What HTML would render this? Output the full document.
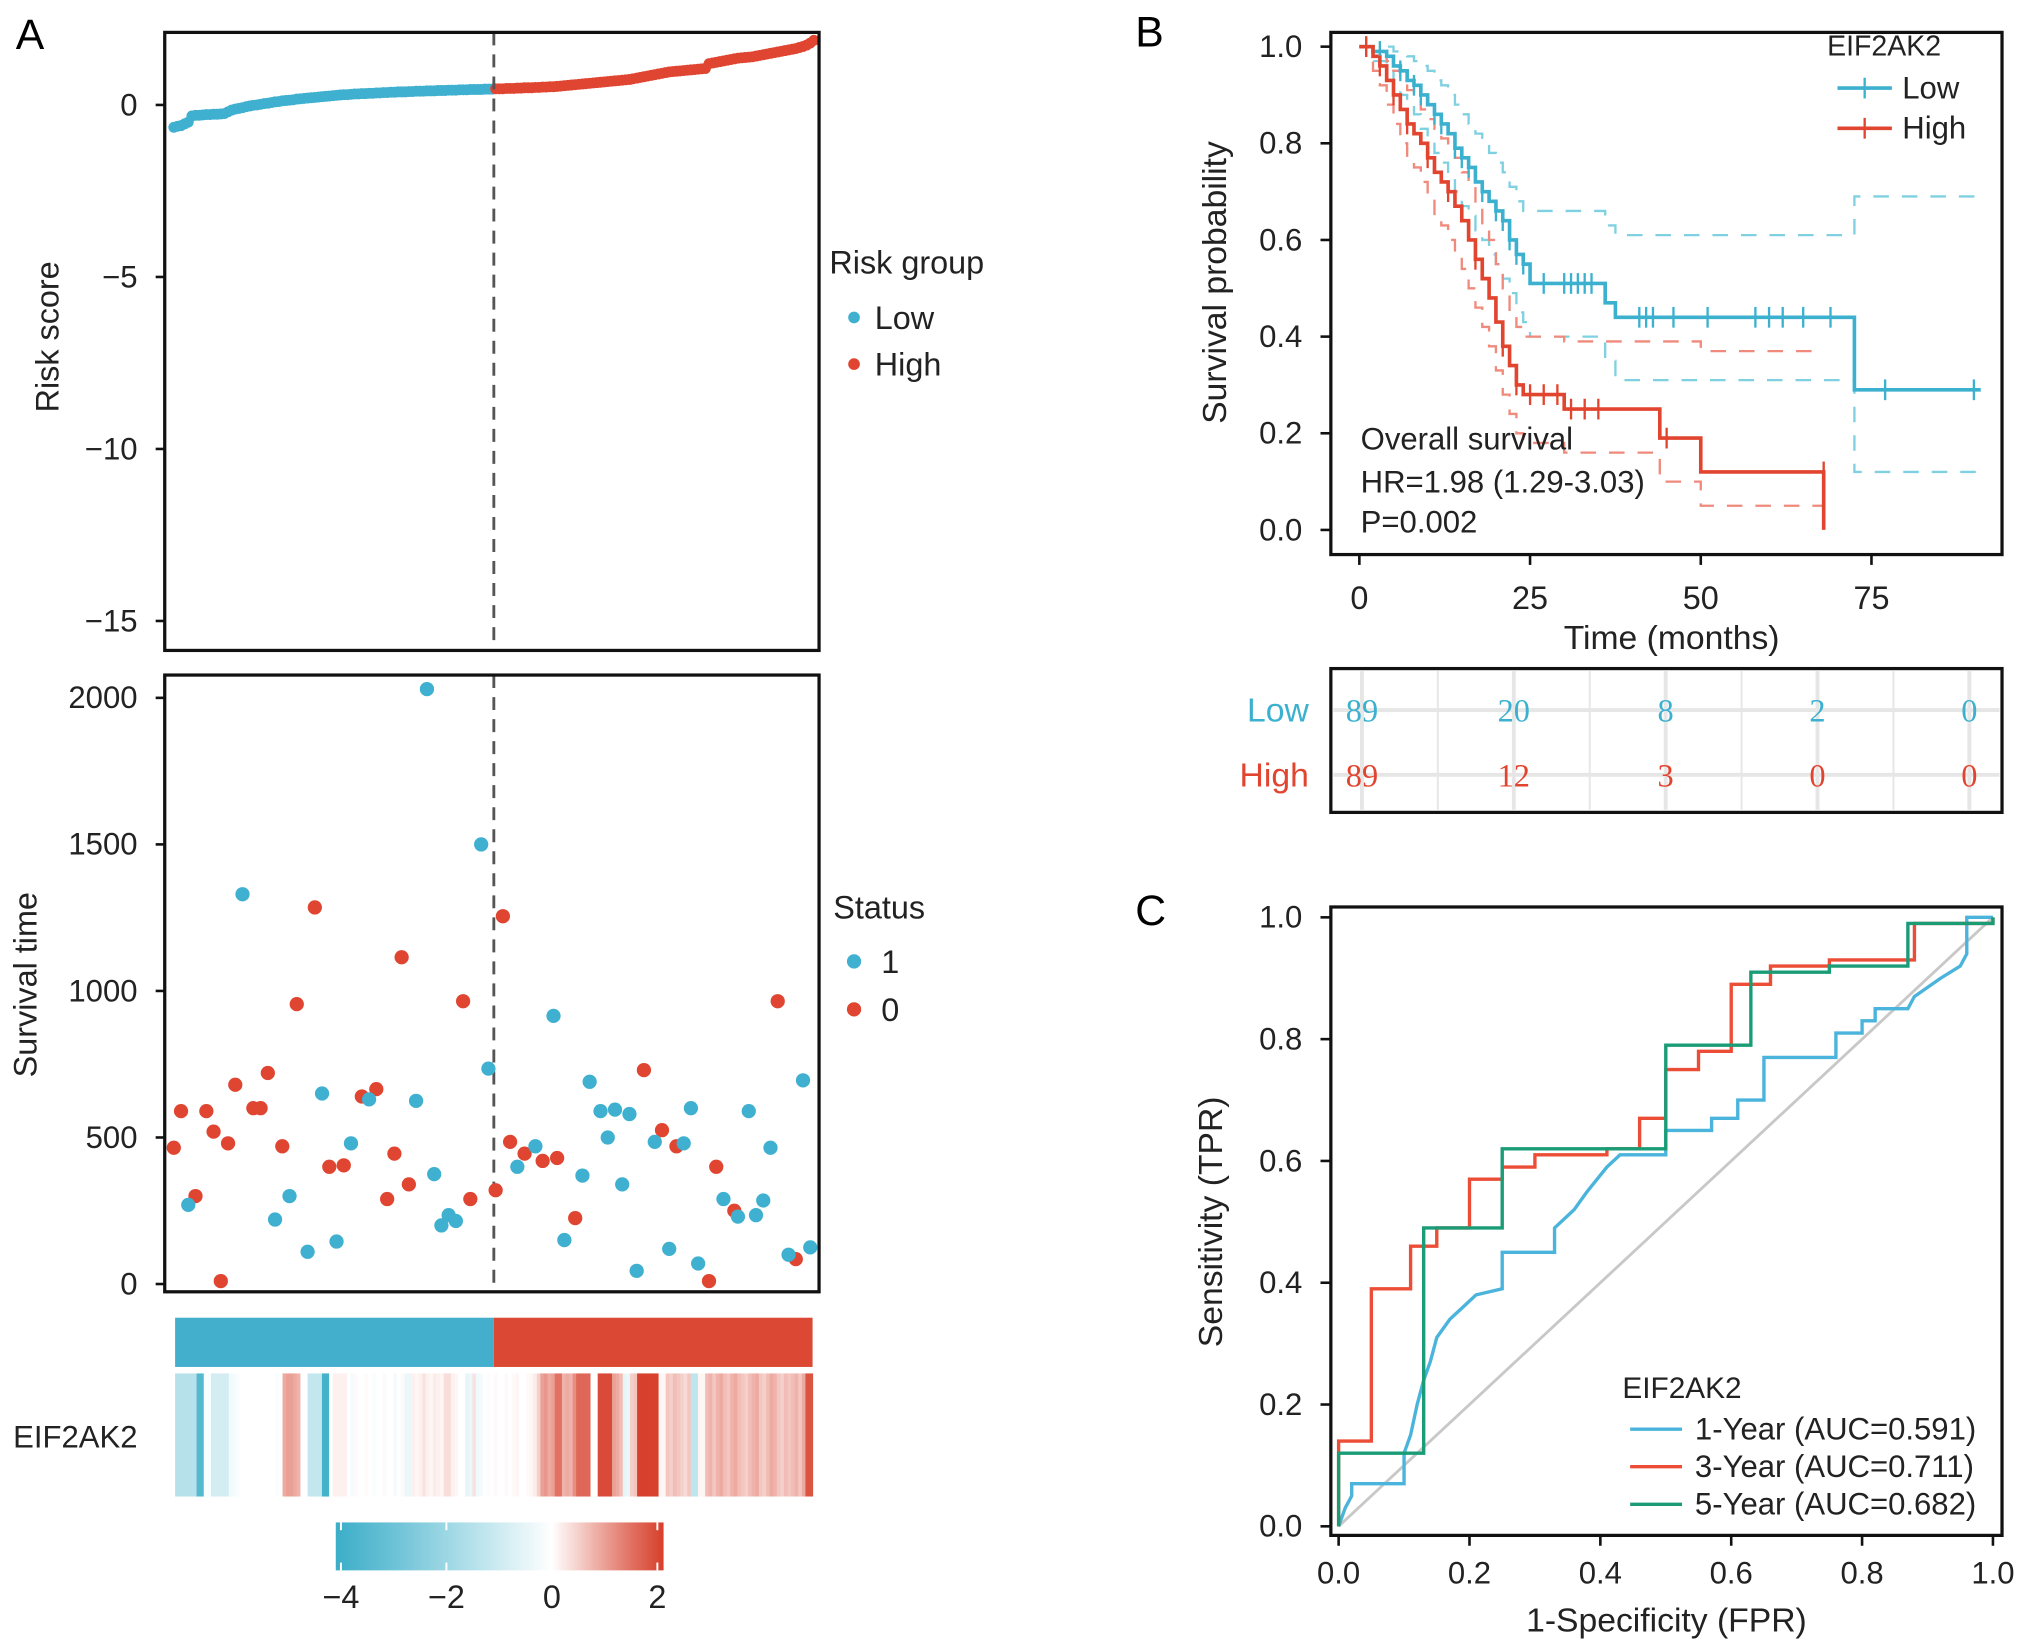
<!DOCTYPE html>
<html><head><meta charset="utf-8"><title>EIF2AK2 risk figure</title>
<style>
html,body{margin:0;padding:0;background:#fff;}
svg{display:block;font-family:"Liberation Sans",Arial,sans-serif;}
</style></head>
<body>
<svg id="fig" xmlns="http://www.w3.org/2000/svg" width="2032" height="1652" viewBox="0 0 1568 1275">
<rect x="0" y="0" width="1568" height="1275" fill="#fff"/>
<g id="gA"></g>
<g id="gB"></g>
<g id="gC"></g>
</svg>
<script>
// ---------- Panel A data ----------
const riskLow = [-0.65,-0.62,-0.6,-0.55,-0.5,
-0.32,-0.3,-0.3,-0.29,-0.28,-0.28,-0.27,-0.27,-0.26,-0.25,-0.2,
-0.15,-0.12,-0.1,-0.08,-0.05,-0.03,-0.01,0,0.02,0.04,0.05,0.07,0.09,0.1,
0.12,0.13,0.14,0.15,0.17,0.18,0.19,0.2,0.21,0.22,0.23,0.24,0.25,0.26,0.27,0.28,0.29,0.3,0.3,0.31,
0.32,0.32,0.33,0.33,0.34,0.34,0.35,0.35,0.36,0.36,0.37,0.37,0.38,0.38,0.38,0.39,0.39,0.4,0.4,0.4,
0.41,0.41,0.41,0.42,0.42,0.42,0.43,0.43,0.43,0.44,0.44,0.44,0.45,0.45,0.45,0.45,0.46,0.46,0.46];
const riskHigh = [0.47,0.47,0.47,0.48,0.48,0.48,0.49,0.49,0.5,0.5,0.5,0.51,0.51,0.52,0.52,0.53,0.53,0.54,0.55,0.56,
0.57,0.58,0.59,0.6,0.61,0.62,0.63,0.64,0.65,0.66,0.67,0.68,0.69,0.7,0.71,0.72,0.73,0.74,0.76,0.78,
0.8,0.82,0.84,0.86,0.88,0.9,0.92,0.94,0.96,0.97,0.98,0.99,1.0,1.01,1.02,1.03,1.04,1.05,1.06,
1.2,1.22,1.24,1.26,1.28,1.3,1.32,1.34,1.36,1.37,1.38,1.39,1.4,1.42,1.44,1.46,1.48,1.5,1.52,1.54,
1.56,1.58,1.6,1.62,1.64,1.67,1.7,1.74,1.8,1.88];
const riskTicks = [0,-5,-10,-15];
const deadRank = [5,20,29,33,38,42,46,50,55,68,73,75,77,79,71,86,88,96,101,106,109,114,116,119,121,123,125,127,129,134,138,142,144,146,153,157,160,162,164,166,171,175,177];
const deadTime = [270,1330,220,300,110,650,145,480,630,625,375,200,235,215,2030,1500,735,400,470,915,150,370,690,590,500,595,340,580,45,485,120,480,600,70,290,230,590,235,285,465,100,695,125];
const aliveRank = [1,3,7,10,12,14,16,18,23,25,27,31,35,40,44,48,53,57,60,62,64,66,81,83,90,92,94,98,103,107,112,131,136,140,151,156,149,168,173];
const aliveTime = [465,590,300,590,520,10,480,680,600,600,720,470,955,1285,400,405,640,665,290,445,1115,340,965,290,320,1255,485,445,420,430,225,730,525,470,400,250,10,965,85];
const timeTicks = [0,500,1000,1500,2000];
const exprValues = [-1.5,-1.5,-1.5,-1.5,-1.5,-1.5,-3.5,-3.5,-0.1,-0.1,
-0.9,-0.9,-0.9,-0.9,-0.9,
-0.3,-0.2,-0.1,0,0,0,0,0,0,0,0,0,0,-0.1,0,
0.9,1.0,1.0,0.9,0.8,0,0,
-1.2,-1.2,-1.2,-1.2,-3.8,-3.8,0,
0.15,0.15,0.15,0.15,
0,-0.2,0.05,0,0,0.05,0,-0.1,0,0,0.05,0,0,-0.2,0,0.05,
-0.4,-0.4,
0.15,0.1,0.15,0.3,0.15,0.1,0.2,0.15,0.1,0.35,0.35,0.15,0.1,
0,0,
-0.5,-0.4,0.3,-0.3,-0.2,
0,-0.1,0,0.05,0,0,0.05,0,
0.05,0.1,0,0,0.05,0.1,0.2,0.5,
1.0,1.1,0.9,1.0,1.5,1.5,
0.8,0.9,0.8,1.2,1.6,1.6,1.6,1.6,0,0,
1.9,1.9,1.9,1.9,1.0,0.9,0.7,
-0.5,-0.4,0.5,0.6,
2.0,2.0,2.0,2.0,2.0,2.0,0.1,0.1,
0.6,0.5,0.7,0.6,0.5,0.4,0.6,-1.3,-1.3,0.1,0.1,
0.7,0.8,0.6,0.8,0.9,0.7,0.6,0.8,0.9,0.7,0.6,0.5,0.7,0.8,0.9,0.6,0.5,0.7,0.9,0.8,0.6,0.5,0.7,
0.6,0.7,0.8,0.6,0.9,1.8,1.8];
const colorbarTicks = [-4,-2,0,2];

// ---------- Panel B data ----------
const lowT = [0,2,4,5,6,7,8,9,10,11,12,13,14,15,16,17,18,19,20,21,22,23,24,25,36,37.5,72.5];
const lowS = [1,0.99,0.98,0.96,0.95,0.93,0.92,0.9,0.88,0.86,0.84,0.82,0.79,0.77,0.75,0.72,0.7,0.68,0.66,0.64,0.6,0.57,0.55,0.51,0.47,0.44,0.29];
const lowUp = [1,1,1,0.99,0.99,0.98,0.97,0.96,0.95,0.93,0.92,0.9,0.88,0.86,0.84,0.82,0.8,0.78,0.76,0.74,0.71,0.68,0.66,0.66,0.63,0.61,0.69];
const lowLo = [1,0.97,0.95,0.92,0.9,0.88,0.86,0.83,0.81,0.78,0.76,0.73,0.7,0.67,0.65,0.62,0.6,0.57,0.55,0.52,0.49,0.45,0.43,0.4,0.35,0.31,0.12];
const lowEnd = 91;
const lowCens = [1,3,6,8,9,11,12,14,15,16,18,20,21,22,23,24,27,30,31,32,33,34,41,42,43,46,51,58,60,62,65,69,77,90];
const highT = [0,2,3,4,5,6,7,8,9,10,11,12,13,14,15,16,17,18,19,20,21,22,23,24,30,44,50,68];
const highS = [1,0.98,0.96,0.93,0.9,0.87,0.84,0.82,0.8,0.77,0.74,0.72,0.7,0.67,0.64,0.6,0.56,0.52,0.48,0.43,0.38,0.34,0.3,0.28,0.25,0.19,0.12,0];
const highUp = [1,1,0.99,0.97,0.95,0.93,0.91,0.89,0.87,0.85,0.83,0.81,0.79,0.77,0.74,0.71,0.67,0.63,0.6,0.55,0.5,0.45,0.42,0.4,0.39,0.39,0.37];
const highLo = [1,0.95,0.92,0.88,0.84,0.8,0.77,0.75,0.72,0.69,0.65,0.63,0.6,0.57,0.54,0.5,0.46,0.42,0.38,0.33,0.28,0.24,0.2,0.18,0.16,0.1,0.05];
const highEnd = 68;
const highCens = [1,3,5,7,10,13,17,21,23,25,27,29,31,33,35,45,68];
const survTicks = [0,0.2,0.4,0.6,0.8,1.0];
const monthTicks = [0,25,50,75];
const riskTableLow = [89,20,8,2,0];
const riskTableHigh = [89,12,3,0,0];

// ---------- Panel C data ----------
const roc1Fpr = [0,0.01,0.02,0.02,0.1,0.1,0.11,0.12,0.13,0.14,0.15,0.17,0.19,0.21,0.25,0.25,0.33,0.33,0.36,0.38,0.41,0.43,0.5,0.5,0.57,0.57,0.61,0.61,0.65,0.65,0.76,0.76,0.8,0.8,0.82,0.82,0.87,0.88,0.92,0.95,0.96,0.96,1];
const roc1Tpr = [0,0.03,0.05,0.07,0.07,0.12,0.15,0.2,0.24,0.27,0.31,0.34,0.36,0.38,0.39,0.45,0.45,0.49,0.52,0.55,0.59,0.61,0.61,0.65,0.65,0.67,0.67,0.7,0.7,0.77,0.77,0.81,0.81,0.83,0.83,0.85,0.85,0.87,0.9,0.92,0.94,1,1];
const roc3Fpr = [0,0,0.05,0.05,0.11,0.11,0.15,0.15,0.2,0.2,0.25,0.25,0.3,0.3,0.41,0.41,0.46,0.46,0.5,0.5,0.55,0.55,0.6,0.6,0.66,0.66,0.75,0.75,0.88,0.88,1,1];
const roc3Tpr = [0,0.14,0.14,0.39,0.39,0.46,0.46,0.49,0.49,0.57,0.57,0.59,0.59,0.61,0.61,0.62,0.62,0.67,0.67,0.75,0.75,0.78,0.78,0.89,0.89,0.92,0.92,0.93,0.93,0.99,0.99,1];
const roc5Fpr = [0,0,0.13,0.13,0.25,0.25,0.5,0.5,0.63,0.63,0.75,0.75,0.87,0.87,1,1];
const roc5Tpr = [0,0.12,0.12,0.49,0.49,0.62,0.62,0.79,0.79,0.91,0.91,0.92,0.92,0.99,0.99,1];
const rocTicks = [0,0.2,0.4,0.6,0.8,1.0];
const rocLabels = ["1-Year (AUC=0.591)","3-Year (AUC=0.711)","5-Year (AUC=0.682)"];

// ---------- helpers ----------
const NS="http://www.w3.org/2000/svg";
function mk(parent, tag, attrs, text){
  const e=document.createElementNS(NS,tag);
  for(const k in attrs) e.setAttribute(k,attrs[k]);
  if(text!==undefined) e.textContent=text;
  parent.appendChild(e); return e;
}
const BLUE="#3fb0cf", RED="#df4530", GREEN="#1a9c76";
const TK=24, TT=26;
function fmtMinus(v){return v<0?"\u2212"+Math.abs(v):String(v);}

// ================= PANEL A =================
const gA=document.getElementById('gA');
let t;
t=mk(gA,'text',{x:12,y:38,'font-size':33});t.textContent='A';


const N=riskLow.length+riskHigh.length;
const axL=127, axR=632;
function rankX(r){return 134+(r-1)*494/(N-1);}
const yRisk=v=>81-v*26.55;
const topPlot=mk(gA,'g',{});

const allRisk=riskLow.concat(riskHigh);
allRisk.forEach((v,i)=>{
  const c=mk(topPlot,'circle',{cx:rankX(i+1),cy:yRisk(v),r:4.2,fill:i<riskLow.length?BLUE:RED});
  
  
});
const splitX=(rankX(riskLow.length)+rankX(riskLow.length+1))/2;
mk(topPlot,'line',{x1:splitX,y1:25,x2:splitX,y2:502,stroke:'#555','stroke-width':2.2,'stroke-dasharray':'10,7'});
t=mk(topPlot,'rect',{x:axL,y:25,width:axR-axL,height:477,fill:'none',stroke:'#111','stroke-width':2.5});

riskTicks.forEach(v=>{
  mk(topPlot,'line',{x1:120,x2:axL,y1:yRisk(v),y2:yRisk(v),stroke:'#111','stroke-width':2});
  const l=mk(topPlot,'text',{x:106,y:yRisk(v)+8,'font-size':TK,'text-anchor':'end',fill:'#222'},fmtMinus(v));
  
});
t=mk(topPlot,'text',{x:45,y:260,'font-size':TT-1,'text-anchor':'middle',transform:'rotate(-90 45 260)',fill:'#222'},'Risk score');

t=mk(gA,'text',{x:640,y:211,'font-size':TT-1,fill:'#222'},'Risk group');

[['Low',BLUE,245],['High',RED,281]].forEach(d=>{
  const g=mk(gA,'g',{});
  mk(g,'circle',{cx:659,cy:d[2],r:4.5,fill:d[1]});
  mk(g,'text',{x:675,y:d[2]+9,'font-size':TT-1,fill:'#222'},d[0]);
});

// scatter
const yTime=v=>991-v*0.2262;
const sc=mk(gA,'g',{});

mk(sc,'line',{x1:splitX,y1:521,x2:splitX,y2:997,stroke:'#555','stroke-width':2.2,'stroke-dasharray':'10,7'});
aliveRank.forEach((r,i)=>{
  const c=mk(sc,'circle',{cx:rankX(r),cy:yTime(aliveTime[i]),r:5.5,fill:RED});
  
});
deadRank.forEach((r,i)=>{
  const c=mk(sc,'circle',{cx:rankX(r),cy:yTime(deadTime[i]),r:5.5,fill:BLUE});
  
});
t=mk(sc,'rect',{x:axL,y:521,width:axR-axL,height:476,fill:'none',stroke:'#111','stroke-width':2.5});

timeTicks.forEach(v=>{
  mk(sc,'line',{x1:120,x2:axL,y1:yTime(v),y2:yTime(v),stroke:'#111','stroke-width':2});
  const l=mk(sc,'text',{x:106,y:yTime(v)+8,'font-size':TK,'text-anchor':'end',fill:'#222'},String(v));
  
});
t=mk(sc,'text',{x:28,y:760,'font-size':TT-1,'text-anchor':'middle',transform:'rotate(-90 28 760)',fill:'#222'},'Survival time');

t=mk(gA,'text',{x:643,y:709,'font-size':TT-1,fill:'#222'},'Status');

[['1',BLUE,742],['0',RED,779]].forEach(d=>{
  const g=mk(gA,'g',{});
  mk(g,'circle',{cx:659,cy:d[2],r:5.5,fill:d[1]});
  mk(g,'text',{x:680,y:d[2]+9,'font-size':TT-1,fill:'#222'},d[0]);
});

// group bar + heatmap
const hx0=135, hx1=627, cw=(hx1-hx0)/N;
t=mk(gA,'rect',{x:hx0,y:1017,width:cw*riskLow.length,height:38,fill:'#44afcc'});

t=mk(gA,'rect',{x:hx0+cw*riskLow.length,y:1017,width:cw*riskHigh.length,height:38,fill:'#db4833'});

function heatColor(v){
  const lo=[59,174,200], wh=[255,255,255], hi=[215,65,45];
  let a,b,f;
  if(v<0){a=wh;b=lo;f=Math.min(1,-v/4);} else {a=wh;b=hi;f=Math.min(1,v/2);}
  const c=a.map((x,i)=>Math.round(x+(b[i]-x)*f));
  return 'rgb('+c.join(',')+')';
}
const hm=mk(gA,'g',{});
exprValues.forEach((v,i)=>{
  const r=mk(hm,'rect',{x:hx0+i*cw,y:1060,width:cw+0.4,height:95,fill:heatColor(v)});
  
});
t=mk(gA,'text',{x:10,y:1117,'font-size':TK,fill:'#222'},'EIF2AK2');

// colorbar
const cbX=v=>263+(v+4)*40.7;
const defsEl=mk(document.getElementById('fig'),'defs',{});
const gradEl=mk(defsEl,'linearGradient',{id:'cbg',x1:0,x2:1,y1:0,y2:0});
[-4.1,-3,-2,-1,0,0.5,1,1.5,2.1].forEach(v=>{
  mk(gradEl,'stop',{offset:((cbX(v)-259)/(512-259)).toFixed(3),'stop-color':heatColor(v)});
});
t=mk(gA,'rect',{x:259,y:1175,width:253,height:37,fill:'url(#cbg)'});

colorbarTicks.forEach(v=>{
  mk(gA,'line',{x1:cbX(v),x2:cbX(v),y1:1175,y2:1181,stroke:'#fff','stroke-width':1.5});
  mk(gA,'line',{x1:cbX(v),x2:cbX(v),y1:1206,y2:1212,stroke:'#fff','stroke-width':1.5});
  const l=mk(gA,'text',{x:cbX(v),y:1241,'font-size':TT-1,'text-anchor':'middle',fill:'#222'},fmtMinus(v));
  
});

// ================= PANEL B =================
const gB=document.getElementById('gB');
t=mk(gB,'text',{x:876,y:36,'font-size':33},'B');

const bx0=1027,bx1=1545,by0=25,by1=428;
const kmX=m=>1049+m*5.27, kmY=s=>409-s*373;
function stepPath(T,S,end){
  let d='M'+kmX(T[0])+','+kmY(S[0]);
  for(let i=1;i<T.length;i++){d+=' H'+kmX(T[i])+' V'+kmY(S[i]);}
  d+=' H'+kmX(end);return d;
}
function survAt(T,S,x){let s=S[0];for(let i=0;i<T.length;i++){if(T[i]<=x)s=S[i];}return s;}
const kmLowC='#3cb1cf', kmHighC='#e2452f';
[[lowT,lowUp,lowEnd,'#7fd0e0','km-low-ci-upper'],[lowT,lowLo,lowEnd,'#7fd0e0','km-low-ci-lower'],
 [highT.slice(0,highUp.length),highUp,highEnd,'#ef8a7c','km-high-ci-upper'],[highT.slice(0,highLo.length),highLo,highEnd,'#ef8a7c','km-high-ci-lower']].forEach(d=>{
  const p=mk(gB,'path',{d:stepPath(d[0],d[1],d[2]),fill:'none',stroke:d[3],'stroke-width':1.8,'stroke-dasharray':'12,10'});
  
});
t=mk(gB,'path',{d:stepPath(lowT,lowS,lowEnd),fill:'none',stroke:kmLowC,'stroke-width':2.8});

t=mk(gB,'path',{d:stepPath(highT,highS,highEnd),fill:'none',stroke:kmHighC,'stroke-width':2.8});

lowCens.forEach(c=>{const y=kmY(survAt(lowT,lowS,c));
  const l=mk(gB,'line',{x1:kmX(c),x2:kmX(c),y1:y-8,y2:y+8,stroke:kmLowC,'stroke-width':1.8});
  });
highCens.forEach(c=>{const y=kmY(c>=highEnd?highS[highS.length-2]:survAt(highT,highS,c));
  const l=mk(gB,'line',{x1:kmX(c),x2:kmX(c),y1:y-8,y2:y+8,stroke:kmHighC,'stroke-width':1.8});
  });
t=mk(gB,'rect',{x:bx0,y:by0,width:bx1-bx0,height:by1-by0,fill:'none',stroke:'#111','stroke-width':2.5});

survTicks.forEach(v=>{
  mk(gB,'line',{x1:1019,x2:bx0,y1:kmY(v),y2:kmY(v),stroke:'#111','stroke-width':2});
  const l=mk(gB,'text',{x:1005,y:kmY(v)+8,'font-size':TK,'text-anchor':'end',fill:'#222'},v.toFixed(1));
  
});
monthTicks.forEach(v=>{
  mk(gB,'line',{x1:kmX(v),x2:kmX(v),y1:by1,y2:by1+8,stroke:'#111','stroke-width':2});
  const l=mk(gB,'text',{x:kmX(v),y:470,'font-size':TT-1,'text-anchor':'middle',fill:'#222'},String(v));
  
});
t=mk(gB,'text',{x:1290,y:501,'font-size':TT,'text-anchor':'middle',fill:'#222'},'Time (months)');

t=mk(gB,'text',{x:946,y:218,'font-size':TT,'text-anchor':'middle',transform:'rotate(-90 946 218)',fill:'#222'},'Survival probability');

t=mk(gB,'text',{x:1410,y:43,'font-size':22,fill:'#222'},'EIF2AK2');

[['Low',kmLowC,68],['High',kmHighC,99]].forEach(d=>{
  const g=mk(gB,'g',{});
  mk(g,'line',{x1:1418,x2:1460,y1:d[2],y2:d[2],stroke:d[1],'stroke-width':2.8});
  mk(g,'line',{x1:1439,x2:1439,y1:d[2]-8,y2:d[2]+8,stroke:d[1],'stroke-width':1.8});
  mk(g,'text',{x:1468,y:d[2]+8,'font-size':TK,fill:'#222'},d[0]);
});
[['Overall survival',347],['HR=1.98 (1.29-3.03)',380],['P=0.002',411]].forEach(d=>{
  const l=mk(gB,'text',{x:1050,y:d[1],'font-size':TK,fill:'#222'},d[0]);
  
});
// risk table
const tb=mk(gB,'g',{});
for(let i=0;i<9;i++){const x=1051+i*58.6;mk(tb,'line',{x1:x,x2:x,y1:518,y2:625,stroke:'#e6e6e6','stroke-width':i%2?1.5:3});}
[548,598].forEach(y=>mk(tb,'line',{x1:1029,x2:1543,y1:y,y2:y,stroke:'#e6e6e6','stroke-width':3}));
t=mk(tb,'rect',{x:bx0,y:516,width:bx1-bx0,height:111,fill:'none',stroke:'#111','stroke-width':2.5});

riskTableLow.forEach((v,i)=>{const l=mk(tb,'text',{x:1051+i*117.2,y:557,'font-size':25,'text-anchor':'middle',fill:kmLowC,'font-family':'"Liberation Serif",serif'},String(v));
  });
riskTableHigh.forEach((v,i)=>{const l=mk(tb,'text',{x:1051+i*117.2,y:607,'font-size':25,'text-anchor':'middle',fill:kmHighC,'font-family':'"Liberation Serif",serif'},String(v));
  });
t=mk(tb,'text',{x:1010,y:557,'font-size':TT,'text-anchor':'end',fill:kmLowC},'Low');

t=mk(tb,'text',{x:1010,y:607,'font-size':TT,'text-anchor':'end',fill:kmHighC},'High');


// ================= PANEL C =================
const gC=document.getElementById('gC');
t=mk(gC,'text',{x:876,y:714,'font-size':33},'C');

const rX=v=>1033+v*505, rY=v=>1178-v*470;
t=mk(gC,'line',{x1:rX(0),y1:rY(0),x2:rX(1),y2:rY(1),stroke:'#c8c8c8','stroke-width':2.2});

function rocPath(F,T){return F.map((f,i)=>(i?'L':'M')+rX(f)+','+rY(T[i])).join(' ');}
const rocC=['#4ab4dc','#ec4d36',GREEN];
[[roc1Fpr,roc1Tpr,'roc-1-year'],[roc3Fpr,roc3Tpr,'roc-3-year'],[roc5Fpr,roc5Tpr,'roc-5-year']].forEach((d,i)=>{
  const p=mk(gC,'path',{d:rocPath(d[0],d[1]),fill:'none',stroke:rocC[i],'stroke-width':2.6});
  
});
t=mk(gC,'rect',{x:bx0,y:700,width:bx1-bx0,height:485,fill:'none',stroke:'#111','stroke-width':2.5});

rocTicks.forEach(v=>{
  mk(gC,'line',{x1:1019,x2:bx0,y1:rY(v),y2:rY(v),stroke:'#111','stroke-width':2});
  let l=mk(gC,'text',{x:1005,y:rY(v)+8,'font-size':TK,'text-anchor':'end',fill:'#222'},v.toFixed(1));
  
  mk(gC,'line',{x1:rX(v),x2:rX(v),y1:1185,y2:1193,stroke:'#111','stroke-width':2});
  l=mk(gC,'text',{x:rX(v),y:1222,'font-size':TK,'text-anchor':'middle',fill:'#222'},v.toFixed(1));
  
});
t=mk(gC,'text',{x:1286,y:1259,'font-size':TT,'text-anchor':'middle',fill:'#222'},'1-Specificity (FPR)');

t=mk(gC,'text',{x:943,y:943,'font-size':TT,'text-anchor':'middle',transform:'rotate(-90 943 943)',fill:'#222'},'Sensitivity (TPR)');

t=mk(gC,'text',{x:1252,y:1079,'font-size':23,fill:'#222'},'EIF2AK2');

rocLabels.forEach((s,i)=>{
  const y=1103+i*29;
  const g=mk(gC,'g',{});
  mk(g,'line',{x1:1258,x2:1298,y1:y,y2:y,stroke:rocC[i],'stroke-width':2.6});
  mk(g,'text',{x:1308,y:y+8,'font-size':TK,fill:'#222'},s);
});
</script>
</body></html>
